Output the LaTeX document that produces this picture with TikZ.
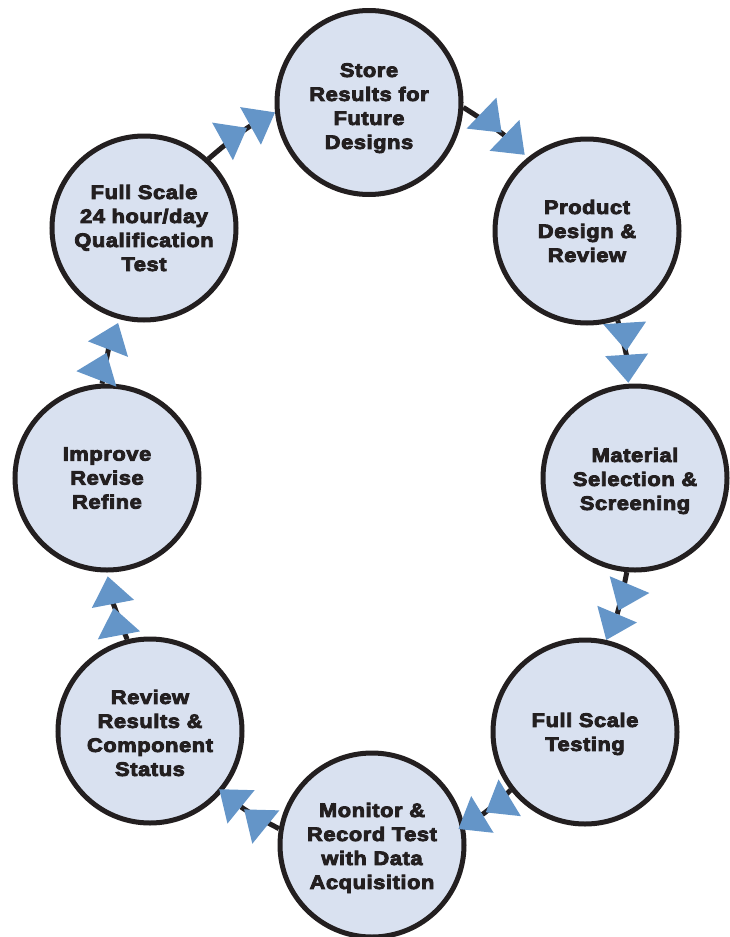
\documentclass[tikz,border=0pt]{standalone}
\usepackage{fontspec}
\newfontfamily\heavy{Liberation Sans Bold}[FakeStretch=1.12,FakeBold=4.5,LetterSpace=3]
\usetikzlibrary{arrows.meta}
\definecolor{fillc}{HTML}{D9E1F0}
\definecolor{arrowc}{HTML}{6495C8}
\definecolor{ink}{HTML}{231F20}
\newcommand\lowr[1]{\rule{0pt}{#1pt}}
\begin{document}
\begin{tikzpicture}[x=1pt,y=-1pt,
  stage/.style={circle,draw=ink,line width=5pt,fill=fillc,minimum size=184pt,inner sep=0pt,
    align=center,font=\heavy\fontsize{19.5}{24}\selectfont,text=ink},
  link/.style={draw=ink,line width=5pt,
    -{Triangle[length=28pt,width=43pt,color=arrowc,fill=arrowc,line width=0pt,sep=4pt]Triangle[length=28pt,width=43pt,color=arrowc,fill=arrowc,line width=0pt,sep=4pt]},
    bend left=6}]
\useasboundingbox (0,0) rectangle (730,937);
\node[stage] (store) at (369,102.5) {\lowr{25}Store\\Results for\\Future\\Designs};
\node[stage] (prod) at (587,231) {Product\\Design \&\\Review};
\node[stage] (mat) at (635,478) {\lowr{20}Material\\Selection \&\\Screening};
\node[stage] (fst) at (585,732) {\lowr{18}Full Scale\\Testing};
\node[stage] (mon) at (372,845) {\lowr{20}Monitor \&\\Record Test\\with Data\\Acquisition};
\node[stage] (rev) at (150,731) {\lowr{18}Review\\Results \&\\Component\\Status};
\node[stage] (imp) at (107,478) {Improve\\Revise\\Refine};
\node[stage] (fs24) at (144,228) {Full Scale\\24 hour/day\\Qualification\\Test};
\draw[link,shorten >=-4pt] (fs24.47) to (store.186);
\draw[link] (store.-3) to (prod.129);
\draw[link,shorten >=-3pt] (prod.-71) to (mat.94);
\draw[link,shorten >=-4pt] (mat.-95) to (fst.77);
\draw[link,shorten >=-11pt] (fst.218) to (mon.12);
\draw[link,shorten >=-8pt] (mon.170) to (rev.-40);
\draw[link] (rev.104) to (imp.-90);
\draw[link] (imp.93) to (fs24.255);
\end{tikzpicture}
\end{document}
